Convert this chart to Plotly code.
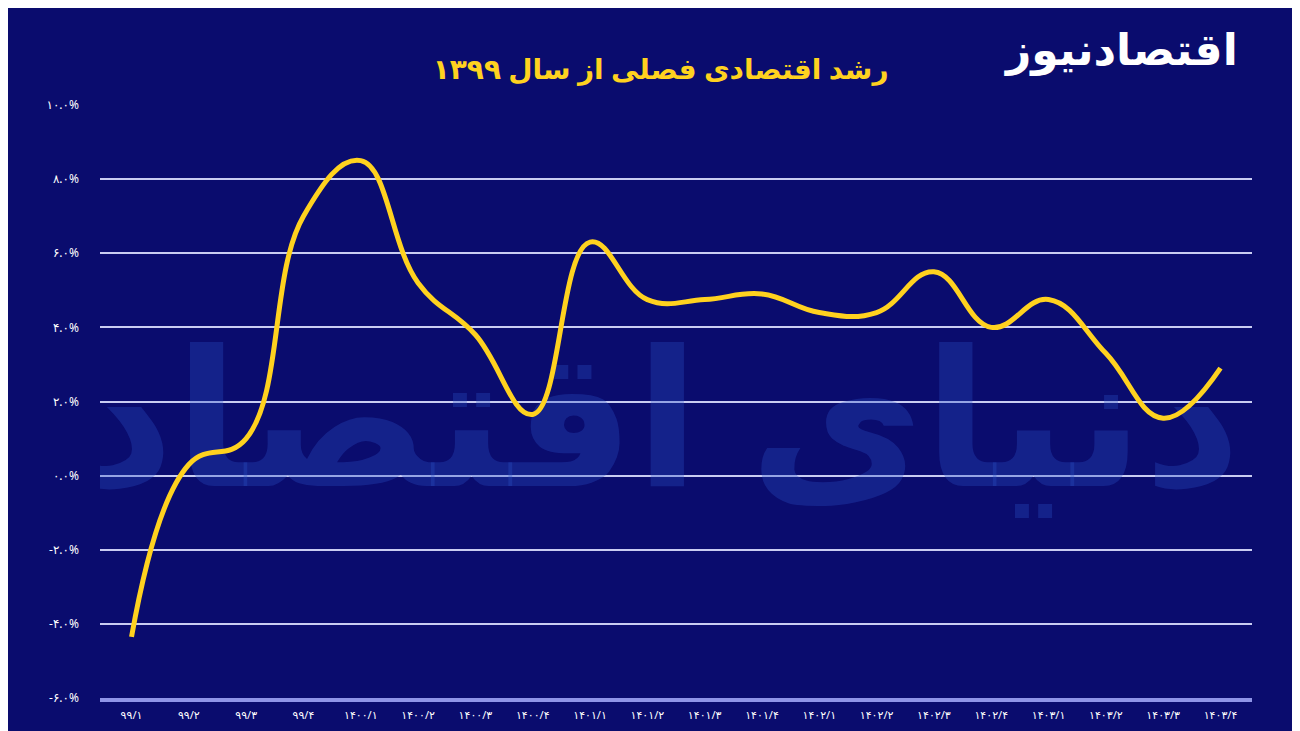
import plotly.graph_objects as go

quarters = ["۹۹/۱", "۹۹/۲", "۹۹/۳", "۹۹/۴",
            "۱۴۰۰/۱", "۱۴۰۰/۲", "۱۴۰۰/۳", "۱۴۰۰/۴",
            "۱۴۰۱/۱", "۱۴۰۱/۲", "۱۴۰۱/۳", "۱۴۰۱/۴",
            "۱۴۰۲/۱", "۱۴۰۲/۲", "۱۴۰۲/۳", "۱۴۰۲/۴",
            "۱۴۰۳/۱", "۱۴۰۳/۲", "۱۴۰۳/۳", "۱۴۰۳/۴"]
growth = [-4.35, 0.3, 1.0, 7.0, 8.5, 5.2, 3.8, 1.65, 6.3, 4.75,
          4.75, 4.9, 4.4, 4.4, 5.5, 4.0, 4.75, 3.3, 1.55, 2.9]
tick_vals = [-6, -4, -2, 0, 2, 4, 6, 8, 10]
tick_text = ["-۶.۰%", "-۴.۰%", "-۲.۰%", "۰.۰%", "۲.۰%", "۴.۰%", "۶.۰%", "۸.۰%", "۱۰.۰%"]

bg = "#0a0c6e"

fig = go.Figure()
# watermark under the line
fig.add_trace(go.Scatter(
    x=[9.2], y=[1.0], mode="text", text=["<b>دنیای اقتصاد</b>"],
    textfont=dict(size=190, color="rgba(45,80,200,0.32)"), hoverinfo="skip"
))
fig.add_trace(go.Scatter(
    x=list(range(len(quarters))), y=growth, mode="lines",
    line=dict(color="#ffd21f", width=5, shape="spline", smoothing=1.2),
    hoverinfo="y"
))

fig.update_layout(
    width=1300, height=731,
    paper_bgcolor=bg, plot_bgcolor=bg,
    margin=dict(l=92, r=56, t=97, b=41),
    showlegend=False,
    font=dict(family="Noto Sans, DejaVu Sans", color="white"),
    title=dict(text="<b>رشد اقتصادی فصلی از سال ۱۳۹۹</b>", x=0.502, y=0.93,
               xanchor="center", font=dict(size=28, color="#ffd21f")),
    xaxis=dict(tickvals=list(range(len(quarters))), ticktext=quarters,
               range=[-0.55, len(quarters) - 0.45], tickangle=0, automargin=False,
               showgrid=False, zeroline=False, showline=True,
               linecolor="#8f95e8", linewidth=4, ticklabelstandoff=4,
               tickfont=dict(size=11, color="white")),
    yaxis=dict(range=[-6, 10], tickvals=tick_vals, ticktext=tick_text, automargin=False,
               showgrid=True, gridcolor="#c9cdf2", gridwidth=2,
               zeroline=False, ticks="", ticklabelstandoff=20,
               tickfont=dict(size=12, color="white")),
    annotations=[
        dict(text="<b>اقتصادنیوز</b>", x=0.99, y=1.15, xref="paper", yref="paper",
             xanchor="right", showarrow=False,
             font=dict(size=44, color="white")),
    ],
)

fig.write_html("out.html")
